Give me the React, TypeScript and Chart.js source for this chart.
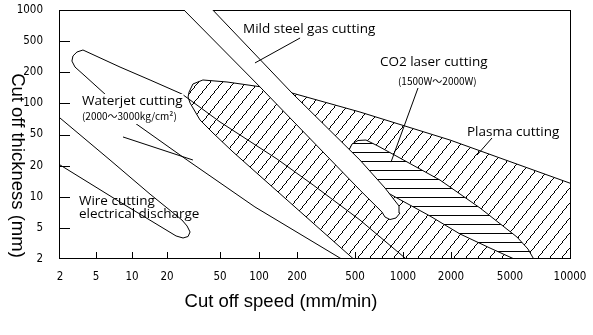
import React, { useEffect, useRef } from 'react';
import { Chart, registerables, Scale } from 'chart.js';

Chart.register(...registerables);

// ---------------- axes ----------------
const speedTicks = [2, 5, 10, 20, 50, 100, 200, 500, 1000, 2000, 5000, 10000];
const thicknessTicks = [2, 5, 10, 20, 50, 100, 200, 500, 1000];
// relative spacing of the printed tick marks (the source axes are hand-spaced, not strictly logarithmic)
const speedTickSpacing = [0, 36, 72, 107, 160, 199, 237, 295, 343, 391, 450, 510];
const thicknessTickSpacing = [0, 1, 2, 3, 4, 5, 6, 7, 8];

// ---------------- regions: [speed mm/min, thickness mm] ----------------
const plasmaRegion = [
  [29.3, 128.8], [31.3, 153.9], [37.2, 168.3], [56.6, 161], [105.6, 144], [182.5, 126],
  [537, 82.5], [1971, 42.5], [10595, 13.0], [10595, 1.78], [522, 1.78], [63, 29.9],
  [44.3, 51.7], [35.4, 69.1], [29.8, 100.8], [28.8, 115.3],
];
const co2Region = [
  [455, 31.7], [477, 37.8], [522, 41.9], [586, 42.5], [697, 35.6], [957, 25.0], [1706, 14.5],
  [3138, 7.79], [5420, 3.82], [6155, 2.68], [6752, 1.78], [5743, 1.78], [5116, 2.06],
  [3666, 2.76], [2300, 4.18], [1477, 6.51], [917, 9.73], [749, 11.6], [621, 14.5],
  [514, 22.2], [462, 27.3],
];
const mildSteelBand = [
  [24.2, 1143], [102, 144], [537, 11.6], [738, 7.12], [771, 6.37], [829, 6.02], [904, 6.23],
  [957, 6.96], [944, 8.14], [771, 12.15], [537, 23.6], [182.5, 126], [40, 1143],
];
const waterjetOutline = [
  [447, 1.78], [394, 2.06], [93.1, 7.96], [28.3, 23.6], [10.6, 64.6], [6.06, 120.5],
  [3.78, 184], [2.93, 233], [2.71, 278], [2.78, 323], [3.08, 363], [3.59, 385],
  [7.94, 233], [14.3, 168.3], [25.9, 123.2], [50, 66.1], [139, 24.3], [258, 13.0],
  [537, 5.96], [1029, 2.06], [1122, 1.78],
];
const wireOutline = [
  [1.76, 78.9], [2, 72.2], [6.55, 23.6], [14.3, 10.6], [25.9, 5.96], [28.3, 5.21],
  [29.8, 4.43], [28.8, 3.88], [26.4, 3.71], [23.4, 3.94], [7.94, 8.89], [2, 20.4], [1.76, 22.2],
];
const leaderMildSteel = [[210, 536], [93.1, 263]];
const leaderCO2 = [[1242, 140.8], [841, 22.2]];
const leaderPlasma = [[3780, 45.1], [2996, 27.3]];
const leaderWaterjet = [[8.41, 46.5], [31.3, 23.6]];

// ---------------- labels ----------------
const labelTexts = [
  'Mild steel gas cutting', 'CO2 laser cutting', '(1500W～2000W)', 'Plasma cutting',
  'Waterjet cutting', '(2000～3000kg/cm²)', 'Wire cutting', 'electrical discharge',
];
const labelSpeed = [75.3, 717, 930, 2564, 3.5, 3.5, 3.24, 3.24];
const labelThickness = [655, 270, 164.6, 52.8, 105.4, 75.5, 9.09, 6.81];
const labelKinds = ['main', 'main', 'small', 'main', 'mainMasked', 'smallMasked', 'main', 'main'];

const xTitle = 'Cut off speed (mm/min)';
const yTitle = 'Cut off thickness (mm)';

const LABEL_FONT = '13.5px "Open Sans", "Liberation Sans", sans-serif';
const SMALL_FONT = '10px "Noto Sans CJK JP", "DejaVu Sans", sans-serif';
const TITLE_FONT = '18.5px "Liberation Sans", Arial, sans-serif';
const TICK_FAMILY = '"Liberation Sans Narrow", "DejaVu Sans Condensed", sans-serif';

const AXES: Record<string, { values: number[]; stops: number[] }> = {
  x: { values: speedTicks, stops: speedTickSpacing },
  y: { values: thicknessTicks, stops: thicknessTickSpacing },
};

class StepLogScale extends Scale {
  static id = 'steplog';
  static defaults = {};
  axisDef() {
    return AXES[(this as any).id];
  }
  determineDataLimits() {
    const { values } = this.axisDef();
    (this as any).min = values[0];
    (this as any).max = values[values.length - 1];
  }
  buildTicks() {
    return this.axisDef().values.map((v) => ({ value: v }));
  }
  getLabelForValue(v: number) {
    return String(v);
  }
  toDecimal(v: number) {
    const { values, stops } = this.axisDef();
    const n = values.length;
    let i = 0;
    while (i < n - 2 && v > values[i + 1]) i++;
    const t = Math.log(v / values[i]) / Math.log(values[i + 1] / values[i]);
    return (stops[i] + t * (stops[i + 1] - stops[i])) / stops[n - 1];
  }
  getPixelForValue(v: number) {
    if (v === null || v === undefined || isNaN(v)) return NaN;
    return (this as any).getPixelForDecimal(this.toDecimal(v));
  }
  getValueForPixel(p: number) {
    const { values, stops } = this.axisDef();
    const n = values.length;
    const d = (this as any).getDecimalForPixel(p) * stops[n - 1];
    let i = 0;
    while (i < n - 2 && d > stops[i + 1]) i++;
    const t = (d - stops[i]) / (stops[i + 1] - stops[i]);
    return values[i] * Math.pow(values[i + 1] / values[i], t);
  }
}
Chart.register(StepLogScale as any);

function makeDiagonalHatch(ctx: CanvasRenderingContext2D) {
  const w = 12, h = 15;
  const c = document.createElement('canvas');
  c.width = w; c.height = h;
  const g = c.getContext('2d')!;
  g.fillStyle = '#000';
  for (let y = 0; y < h; y++) {
    const x = Math.floor(((h - 0.5 - y) * w) / h);
    g.fillRect(x, y, 1, 1);
  }
  return ctx.createPattern(c, 'repeat');
}

function makeHorizontalHatch(ctx: CanvasRenderingContext2D) {
  const c = document.createElement('canvas');
  c.width = 9; c.height = 9;
  const g = c.getContext('2d')!;
  g.fillStyle = '#fff';
  g.fillRect(0, 0, 9, 9);
  g.fillStyle = '#000';
  g.fillRect(0, 8, 9, 1);
  return ctx.createPattern(c, 'repeat');
}

const toPts = (arr: number[][]) => arr.map(([x, y]) => ({ x, y }));
const closed = (arr: number[][]) => toPts([...arr, arr[0]]);

const annotate = {
  id: 'annotate',
  beforeDatasetsDraw(chart: any) {
    const { ctx, chartArea: a, scales } = chart;
    ctx.save();
    ctx.strokeStyle = '#000';
    ctx.lineWidth = 1;
    ctx.beginPath();
    ctx.moveTo(a.left - 1, a.top + 0.5);
    ctx.lineTo(a.right + 1, a.top + 0.5);
    // inward tick marks
    const ys = scales.y, xs = scales.x;
    ys.ticks.forEach((_: any, i: number) => {
      if (i === 0 || i === ys.ticks.length - 1) return;
      const p = Math.round(ys.getPixelForTick(i)) + 0.5;
      ctx.moveTo(a.left, p);
      ctx.lineTo(a.left + 10, p);
    });
    xs.ticks.forEach((_: any, i: number) => {
      if (i === 0 || i === xs.ticks.length - 1) return;
      const p = Math.round(xs.getPixelForTick(i)) + 0.5;
      ctx.moveTo(p, a.bottom);
      ctx.lineTo(p, a.bottom - 7);
    });
    ctx.stroke();
    ctx.restore();
  },
  afterDatasetsDraw(chart: any) {
    const { ctx, chartArea: a, scales } = chart;
    const xs = scales.x, ys = scales.y;
    ctx.save();
    ctx.strokeStyle = '#000';
    ctx.lineWidth = 1;
    ctx.beginPath();
    ctx.moveTo(a.left - 0.5, a.top);
    ctx.lineTo(a.left - 0.5, a.bottom);
    ctx.moveTo(a.left - 1, a.bottom - 0.5);
    ctx.lineTo(a.right + 1, a.bottom - 0.5);
    ctx.moveTo(a.right + 0.5, a.top);
    ctx.lineTo(a.right + 0.5, a.bottom);
    ctx.stroke();

    ctx.textAlign = 'left';
    ctx.textBaseline = 'middle';
    labelTexts.forEach((t, i) => {
      const kind = labelKinds[i];
      const px = xs.getPixelForValue(labelSpeed[i]);
      const py = ys.getPixelForValue(labelThickness[i]);
      ctx.font = kind.startsWith('small') ? SMALL_FONT : LABEL_FONT;
      if (kind.endsWith('Masked')) {
        const w = ctx.measureText(t).width;
        ctx.fillStyle = '#fff';
        ctx.fillRect(px - 1, py - 7, w + 2, 15);
      }
      ctx.fillStyle = '#000';
      ctx.fillText(t, px, py);
    });

    ctx.font = TITLE_FONT;
    ctx.fillStyle = '#000';
    ctx.textAlign = 'center';
    ctx.textBaseline = 'alphabetic';
    ctx.fillText(xTitle, 281, 307);
    ctx.translate(12, 165.5);
    ctx.rotate(Math.PI / 2);
    ctx.fillText(yTitle, 0, 0);
    ctx.restore();
  },
};

export default function App() {
  const ref = useRef<HTMLCanvasElement>(null);
  useEffect(() => {
    const canvas = ref.current!;
    const ctx = canvas.getContext('2d')!;
    const diag = makeDiagonalHatch(ctx);
    const horiz = makeHorizontalHatch(ctx);
    const base = {
      showLine: true,
      pointRadius: 0,
      pointHoverRadius: 0,
      borderColor: '#000',
      borderWidth: 1,
      tension: 0,
      clip: 0,
      fill: false as any,
    };
    const chart = new Chart(canvas, {
      type: 'scatter',
      data: {
        datasets: [
          { ...base, label: 'Plasma cutting', data: closed(plasmaRegion), fill: 'shape', backgroundColor: diag as any, order: 5 },
          { ...base, label: 'CO2 laser cutting', data: closed(co2Region), fill: 'shape', backgroundColor: horiz as any, order: 4 },
          { ...base, label: 'Mild steel gas cutting', data: closed(mildSteelBand), fill: 'shape', backgroundColor: '#fff', order: 3 },
          { ...base, label: 'Waterjet cutting', data: toPts(waterjetOutline), order: 2 },
          { ...base, label: 'Wire cutting electrical discharge', data: toPts(wireOutline), order: 2 },
          { ...base, label: 'leader 1', data: toPts(leaderMildSteel), order: 1 },
          { ...base, label: 'leader 2', data: toPts(leaderCO2), order: 1 },
          { ...base, label: 'leader 3', data: toPts(leaderPlasma), order: 1 },
          { ...base, label: 'leader 4', data: toPts(leaderWaterjet), order: 1 },
        ] as any,
      },
      options: {
        responsive: false,
        animation: false,
        events: [],
        layout: { padding: { top: 10, right: 23, left: 0, bottom: 0 } },
        plugins: { legend: { display: false }, tooltip: { enabled: false } },
        scales: {
          x: {
            type: 'steplog' as any,
            position: 'bottom',
            border: { display: false },
            grid: { display: false },
            ticks: {
              autoSkip: false, maxRotation: 0, minRotation: 0, padding: 3, color: '#000',
              font: { family: TICK_FAMILY, size: 11.5 },
              callback: (v: any) => String(v),
            },
            afterFit: (s: any) => { s.height = 76; s.paddingLeft = 0; s.paddingRight = 0; },
          } as any,
          y: {
            type: 'steplog' as any,
            position: 'left',
            border: { display: false },
            grid: { display: false },
            ticks: {
              autoSkip: false, padding: 9, color: '#000',
              font: { family: TICK_FAMILY, size: 11.5 },
              callback: (v: any) => String(v),
            },
            afterFit: (s: any) => { s.width = 60; s.paddingTop = 0; s.paddingBottom = 0; },
          } as any,
        },
      },
      plugins: [annotate as any],
    });
    return () => chart.destroy();
  }, []);
  return (
    <div style={{ position: 'fixed', left: 0, top: 0, width: 593, height: 335, background: '#fff' }}>
      <canvas ref={ref} width={593} height={335} style={{ display: 'block' }} />
    </div>
  );
}
